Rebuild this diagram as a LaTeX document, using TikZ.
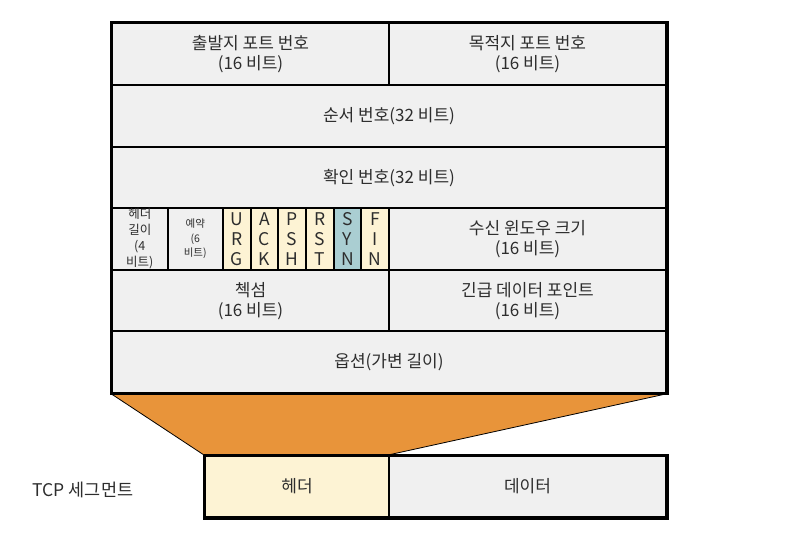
\documentclass[tikz,border=0pt]{standalone}
\usepackage{fontspec}
\setmainfont{Noto Sans CJK KR}
\usetikzlibrary{positioning}
\definecolor{mytext}{RGB}{45,45,45}
\definecolor{cellgray}{RGB}{240,240,240}
\definecolor{flagyellow}{RGB}{253,243,212}
\definecolor{synteal}{RGB}{170,206,210}
\definecolor{myorange}{RGB}{232,148,58}
\tikzset{
  field/.style={rectangle, draw=black, fill=cellgray, line width=2pt,
    anchor=north west, inner sep=0pt, align=center, text=mytext,
    minimum height=61.7pt, font=\fontsize{17}{20}\selectfont},
  flagbox/.style={field, fill=flagyellow, minimum width=27.67pt,
    font=\fontsize{17.5}{20}\selectfont},
  smallfield/.style={field, minimum width=55.5pt,
    font=\fontsize{12.5}{16}\selectfont},
  frame/.style={draw=black, line width=3pt}
}

\begin{document}
\begin{tikzpicture}[x=1pt, y=-1pt]
  \useasboundingbox (0,0) rectangle (789,547);

  % header words
  \node[field, minimum width=277pt] (srcport) at (111,22) {출발지 포트 번호\\(16 비트)};
  \node[field, minimum width=277pt] (dstport) at (388,22) {목적지 포트 번호\\(16 비트)};
  \node[field, minimum width=554pt] (seqnum) at (111,84) {순서 번호(32 비트)};
  \node[field, minimum width=554pt] (acknum) at (111,146) {확인 번호(32 비트)};

  % flags row
  \node[smallfield] (hlen) at (111,207) {헤더\\길이\\(4\\비트)};
  \node[smallfield, font=\fontsize{10.5}{14.5}\selectfont] (rsvd) at (166.5,207) {예약\\(6\\비트)};
  \foreach \a/\b/\c/\nm [count=\i] in {U/R/G/urg, A/C/K/ack, P/S/H/psh, R/S/T/rst, S/Y/N/syn, F/I/N/fin}
    \node[flagbox] (\nm) at ({222+27.67*(\i-1)},207) {\a\\\b\\\c};
  \node[flagbox, fill=synteal] at (syn.north west) {S\\Y\\N};
  \node[field, minimum width=277pt] (window) at (388,207) {수신 윈도우 크기\\(16 비트)};

  \node[field, minimum width=277pt] (chksum) at (111,269) {첵섬\\(16 비트)};
  \node[field, minimum width=277pt] (urgptr) at (388,269) {긴급 데이터 포인트\\(16 비트)};
  \node[field, minimum width=554pt] (opt) at (111,330) {옵션(가변 길이)};
  \draw[frame] (srcport.north west) rectangle (opt.south east);

  % segment
  \node[field, fill=flagyellow, minimum width=184pt, minimum height=61pt] (hdr) at (204,455) {헤더};
  \node[field, minimum width=277pt, minimum height=61pt] (data) at (388,455) {데이터};
  \draw[frame] (hdr.north west) rectangle (data.south east);
  \fill[myorange] (opt.south west) -- (opt.south east) -- (data.north west) -- (hdr.north west) -- cycle;
  \draw[line width=0.8pt] (opt.south west) -- (hdr.north west);
  \draw[line width=0.8pt] (opt.south east) -- (data.north west);
  \draw[frame] (opt.south west) -- (opt.south east);
  \draw[frame] (hdr.north west) -- (data.north east);

  \node[text=mytext, font=\fontsize{17.5}{20}\selectfont] (seglabel) at (83,490) {TCP 세그먼트};
\end{tikzpicture}
\end{document}
